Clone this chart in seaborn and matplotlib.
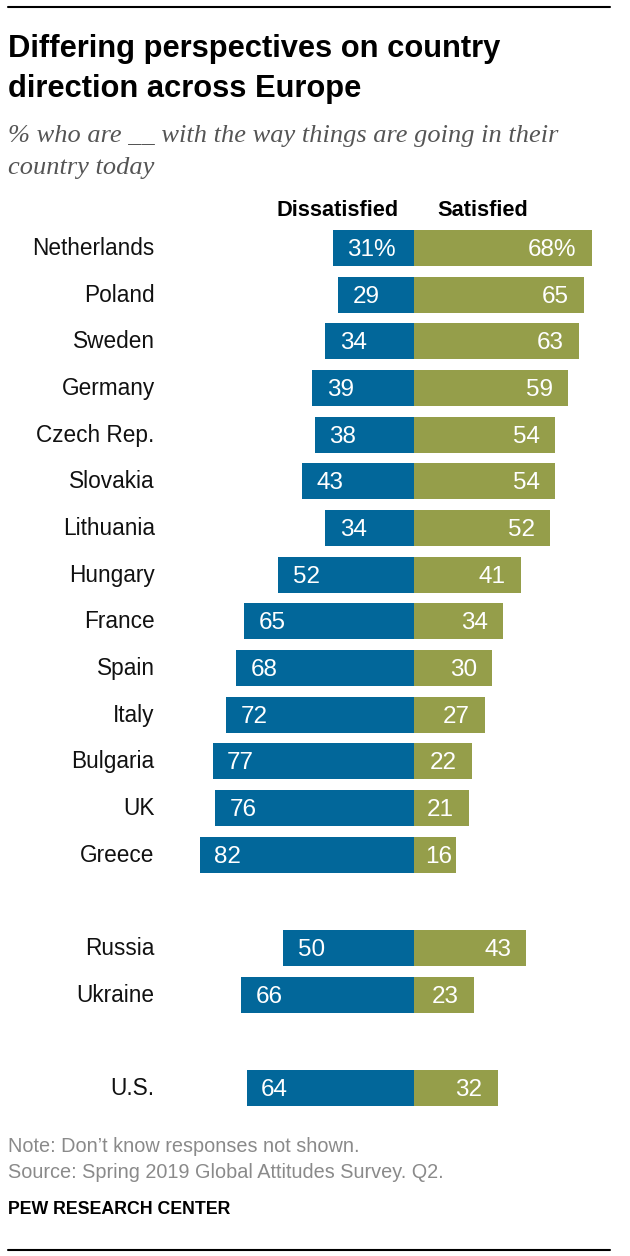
import matplotlib
matplotlib.use('Agg')
import matplotlib.pyplot as plt
from matplotlib.transforms import ScaledTranslation
import numpy as np
import pandas as pd
import seaborn as sns

countries = ['Netherlands', 'Poland', 'Sweden', 'Germany', 'Czech Rep.', 'Slovakia', 'Lithuania',
             'Hungary', 'France', 'Spain', 'Italy', 'Bulgaria', 'UK', 'Greece',
             ' ', 'Russia', 'Ukraine', '  ', 'U.S.']
dissatisfied = [31, 29, 34, 39, 38, 43, 34, 52, 65, 68, 72, 77, 76, 82, np.nan, 50, 66, np.nan, 64]
satisfied = [68, 65, 63, 59, 54, 54, 52, 41, 34, 30, 27, 22, 21, 16, np.nan, 43, 23, np.nan, 32]

BLUE = '#02679a'
GREEN = '#959e4a'
W, H = 630, 1256
SANS = ['Liberation Sans Narrow', 'Liberation Sans', 'DejaVu Sans']
SERIF = ['Liberation Serif', 'DejaVu Serif']

sns.set_theme(style='white')
plt.rcParams['font.family'] = SANS

df = pd.DataFrame({'country': countries, 'dissatisfied': dissatisfied, 'satisfied': satisfied})
df['neg'] = -df['dissatisfied']

fig = plt.figure(figsize=(W / 100, H / 100), dpi=100)
# axes placed so that zero sits at the centre line of the bars
left, right, top, bottom, zero = 165, 625, 224.7, 1111.3, 414
ax = fig.add_axes([left / W, 1 - bottom / H, (right - left) / W, (bottom - top) / H])
sns.barplot(data=df, y='country', x='neg', color=BLUE, width=0.77, saturation=1, linewidth=0, ax=ax)
sns.barplot(data=df, y='country', x='satisfied', color=GREEN, width=0.77, saturation=1, linewidth=0, ax=ax)

px_per_unit = 2.615
ax.set_xlim((left - zero) / px_per_unit, (right - zero) / px_per_unit)
ax.set_ylim(18.5, -0.5)
ax.set_xlabel('')
ax.set_ylabel('')
ax.set_xticks([])
ax.tick_params(axis='y', length=0, pad=7.4, labelsize=16.3, labelcolor='#111111')
nudge = ScaledTranslation(0, 2 / 100, fig.dpi_scale_trans)
for lab in ax.get_yticklabels():
    lab.set_transform(lab.get_transform() + nudge)
sns.despine(ax=ax, left=True, bottom=True)

for i, (d, s) in enumerate(zip(dissatisfied, satisfied)):
    if np.isnan(d):
        continue
    suffix = '%' if i == 0 else ''
    ax.annotate(f'{d}{suffix}', (-d, i), xytext=(10.5, -1.5), textcoords='offset points',
                ha='left', va='center', color='white', fontsize=17.5)
    pad = -2.5 if s < 20 else -11
    ax.annotate(f'{s}{suffix}', (s, i), xytext=(pad, -1.5), textcoords='offset points',
                ha='right', va='center', color='white', fontsize=17.5)


def put(x, y, txt, **kw):
    fig.text(x / W, 1 - y / H, txt, va='center', **kw)


put(8, 49, 'Differing perspectives on country', fontsize=22.2, fontweight='bold', color='black')
put(8, 89, 'direction across Europe', fontsize=22.2, fontweight='bold', color='black')
put(8, 136, '% who are __ with the way things are going in their', fontsize=19, style='italic',
    color='#555555', family=SERIF)
put(8, 168, 'country today', fontsize=19, style='italic', color='#555555', family=SERIF)
put(277, 210, 'Dissatisfied', fontsize=15.7, fontweight='bold', color='black')
put(437, 210, 'Satisfied', fontsize=15.7, fontweight='bold', color='black')
put(8, 1147, 'Note: Don\u2019t know responses not shown.', fontsize=14.3, color='#8a8a8a')
put(8, 1173, 'Source: Spring 2019 Global Attitudes Survey. Q2.', fontsize=14.3, color='#8a8a8a')
put(8, 1210, 'PEW RESEARCH CENTER', fontsize=12.8, fontweight='bold', color='black')

for y in (7, 1250):
    fig.add_artist(plt.Line2D([8 / W, 610 / W], [1 - y / H] * 2, color='black', lw=1.5))

fig.savefig('out.png', dpi=100)
